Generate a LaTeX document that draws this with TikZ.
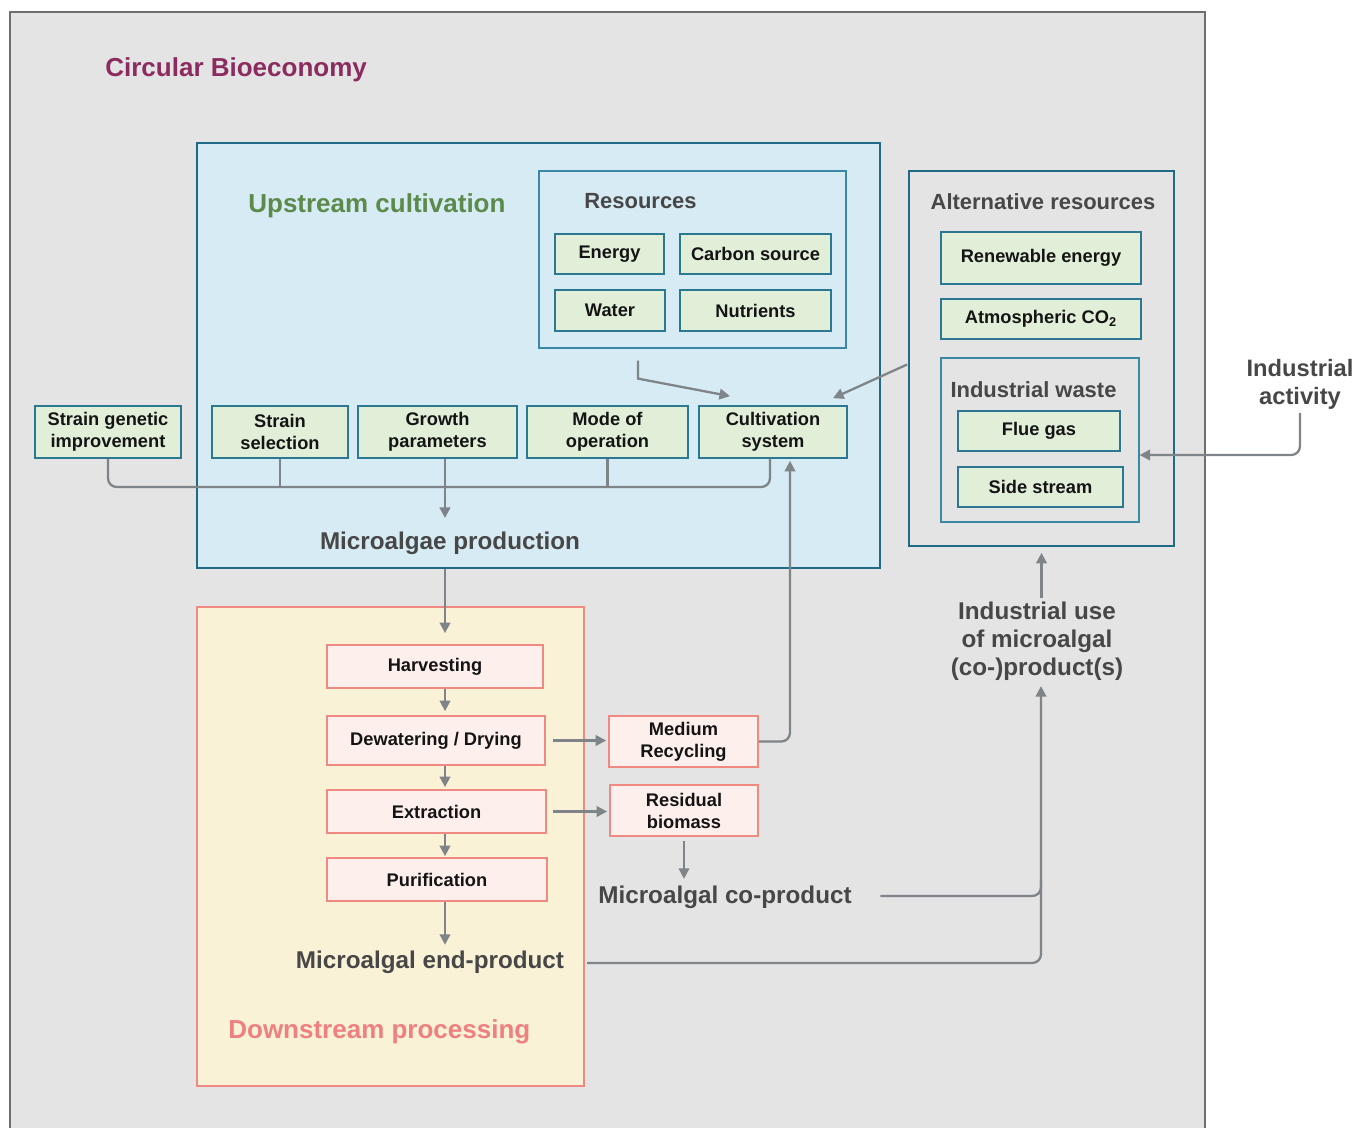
\documentclass[tikz,border=0pt]{standalone}
\usepackage{fontspec}
\setmainfont{Liberation Sans}
\usetikzlibrary{arrows.meta,positioning,calc}

\definecolor{outerfill}{HTML}{E4E4E4}
\definecolor{outeredge}{HTML}{6E6E6E}
\definecolor{bioecon}{HTML}{8C2B5F}
\definecolor{upfill}{HTML}{D6EBF3}
\definecolor{upedge}{HTML}{1E6A87}
\definecolor{uptitle}{HTML}{5B8A4B}
\definecolor{resedge}{HTML}{3B87A6}
\definecolor{greenfill}{HTML}{E1EFD9}
\definecolor{greenedge}{HTML}{2C7892}
\definecolor{downfill}{HTML}{FAF2D7}
\definecolor{downedge}{HTML}{EF8A82}
\definecolor{pinkfill}{HTML}{FDF0EC}
\definecolor{downtitle}{HTML}{EE8080}
\definecolor{labelgray}{HTML}{474747}
\definecolor{arrowgray}{HTML}{7E8488}

\newcommand{\boxfont}{\bfseries\fontsize{10.4}{12.5}\selectfont}
\newcommand{\titlefont}{\bfseries\fontsize{14.8}{17}\selectfont}
\newcommand{\subtitlefont}{\bfseries\fontsize{12.5}{15}\selectfont}
\newcommand{\labelfont}{\bfseries\fontsize{13.8}{15.9}\selectfont}

\begin{document}
\begin{tikzpicture}[x=0.02cm, y=-0.02cm,
    box/.style={rectangle, line width=1pt, align=center, inner sep=1pt, font=\boxfont, text=black!92},
    greenbox/.style={box, draw=greenedge, fill=greenfill},
    pinkbox/.style={box, draw=downedge, fill=pinkfill},
    frame/.style={rectangle, inner sep=0pt},
    title/.style={font=\titlefont, inner sep=0pt},
    label/.style={font=\labelfont, text=labelgray, align=center, inner sep=2pt},
    flow/.style={-{Triangle[length=6pt,width=6pt]}, draw=arrowgray, line width=1.3pt, rounded corners=5pt},
    wire/.style={draw=arrowgray, line width=1.3pt, rounded corners=5pt}
]

    \useasboundingbox (0,0) rectangle (1357,1127);

    % Circular bioeconomy frame
    \draw [fill=outerfill, draw=outeredge, line width=1pt] (10,12) rectangle (1205,1150);
    \node (bioecon) [title, text=bioecon, anchor=west] at (105,70) {Circular Bioeconomy};

    % Upstream cultivation
    \node (upstream) [frame, fill=upfill, draw=upedge, line width=1.2pt, minimum width=13.66cm, minimum height=8.5cm] at (538.5,355.5) {};
    \node (uptitle) [title, text=uptitle, anchor=west] at (248,206) {Upstream cultivation};

    \node (res) [frame, draw=resedge, line width=0.7pt, minimum width=6.14cm, minimum height=3.54cm] at (692.5,259.5) {};
    \node (restitle) [font=\subtitlefont, text=labelgray, anchor=west, inner sep=0pt] at (584,201) {Resources};
    \node (energy) [greenbox, minimum width=2.18cm, minimum height=0.8cm] at (609.5,254) {Energy};
    \node (carbon) [greenbox, minimum width=3.02cm, minimum height=0.8cm] at (755.5,254) {Carbon source};
    \node (water) [greenbox, minimum width=2.2cm, minimum height=0.82cm] at (610,310.5) {Water};
    \node (nutr) [greenbox, minimum width=3.02cm, minimum height=0.82cm] at (755.5,310.5) {Nutrients};

    \node (sgi) [greenbox, minimum width=2.92cm, minimum height=1.04cm] at (108,432) {Strain genetic\\improvement};
    \node (ssel) [greenbox, minimum width=2.72cm, minimum height=1.04cm] at (280,432) {Strain\\selection};
    \node (growth) [greenbox, minimum width=3.18cm, minimum height=1.04cm] at (437.5,432) {Growth\\parameters};
    \node (mode) [greenbox, minimum width=3.22cm, minimum height=1.04cm] at (607.5,432) {Mode of\\operation};
    \node (cult) [greenbox, minimum width=2.96cm, minimum height=1.04cm] at (773,432) {Cultivation\\system};

    \node (prod) [label] at (450,543) {Microalgae production};

    % Alternative resources
    \node (altres) [frame, draw=upedge, line width=1pt, minimum width=5.3cm, minimum height=7.5cm] at (1041.5,358.5) {};
    \node (alttitle) [font=\subtitlefont, text=labelgray] at (1043,202) {Alternative resources};
    \node (renew) [greenbox, minimum width=4cm, minimum height=1.04cm] at (1041,258) {Renewable energy};
    \node (atmco) [greenbox, minimum width=4cm, minimum height=0.8cm] at (1041,319) {Atmospheric CO\textsubscript{2}};

    \node (indwaste) [frame, draw=resedge, line width=0.7pt, minimum width=3.96cm, minimum height=3.28cm] at (1040,440) {};
    \node (wastetitle) [font=\subtitlefont, text=labelgray] at (1033.5,390) {Industrial waste};
    \node (flue) [greenbox, minimum width=3.24cm, minimum height=0.8cm] at (1039,431) {Flue gas};
    \node (side) [greenbox, minimum width=3.3cm, minimum height=0.8cm] at (1040.5,487) {Side stream};

    \node (indact) [label, font=\bfseries\fontsize{13.5}{15.9}\selectfont] at (1300,384) {Industrial\\activity};
    \node (induse) [label] at (1037,641) {Industrial use\\of microalgal\\(co-)product(s)};

    % Downstream processing
    \node (downstream) [frame, fill=downfill, draw=downedge, line width=1.2pt, minimum width=7.74cm, minimum height=9.58cm] at (390.5,846.5) {};
    \node (downtitle) [title, text=downtitle, anchor=west] at (228,1032) {Downstream processing};

    \coordinate (spine) at (445,0);
    \node (harv) [pinkbox, minimum width=4.32cm, minimum height=0.86cm] at (435,666.5) {Harvesting};
    \node (dew) [pinkbox, minimum width=4.36cm, minimum height=0.98cm] at (436,740.5) {Dewatering / Drying};
    \node (extr) [pinkbox, minimum width=4.38cm, minimum height=0.86cm] at (436.5,811.5) {Extraction};
    \node (purif) [pinkbox, minimum width=4.4cm, minimum height=0.86cm] at (437,879.5) {Purification};
    \node (endprod) [label] at (430,962) {Microalgal end-product};

    \node (medium) [pinkbox, minimum width=2.98cm, minimum height=1.02cm] at (683.5,741.5) {Medium\\Recycling};
    \node (resid) [pinkbox, minimum width=2.96cm, minimum height=1.02cm] at (684,810.5) {Residual\\biomass};
    \node (coprod) [label] at (725,897) {Microalgal co-product};

    % Upstream connectors
    \coordinate (bus) at (445,487);
    \draw [wire] (sgi.south) |- (bus) -| ([shift={(-3,0)}]cult.south);
    \draw [wire] (ssel.south) -- (ssel.south |- bus);
    \draw [wire] (mode.south) -- (mode.south |- bus);
    \draw [flow] (growth.south -| bus) -- ([shift={(0,31)}]bus);
    \draw [flow, rounded corners=0pt] ([shift={(-54.5,12)}]res.south) -- ++(0,18) -- ([shift={(-43,-9)}]cult.north);
    \draw [flow] ([shift={(-1,6)}]altres.west) -- ([shift={(60,-7)}]cult.north);
    \draw [flow] (medium.east) -| ([shift={(17,2)}]cult.south);

    % Alternative resources connectors
    \draw [flow] (indact.south) |- ([shift={(0,15)}]indwaste.east);
    \draw [flow] (altres.south |- induse.north) -- ([shift={(0,6)}]altres.south);

    % Downstream connectors
    \draw [flow] (upstream.south -| spine) -- ([shift={(0,-11)}]harv.north -| spine);
    \draw [flow] (harv.south -| spine) -- ([shift={(0,-4)}]dew.north -| spine);
    \draw [flow] (dew.south -| spine) -- ([shift={(0,-2)}]extr.north -| spine);
    \draw [flow] (extr.south -| spine) -- ([shift={(0,-1)}]purif.north -| spine);
    \draw [flow] (purif.south -| spine) -- ([shift={(0,-2)}]endprod.north -| spine);
    \draw [flow] ([shift={(7,0)}]dew.east) -- ([shift={(-2,0)}]medium.west |- dew.east);
    \draw [flow] ([shift={(6,0)}]extr.east) -- ([shift={(-2,0)}]resid.west |- extr.east);
    \draw [flow] ([shift={(0,4)}]resid.south) -- ([shift={(0,-3)}]resid.south |- coprod.north);

    % Co-products to industrial use
    \coordinate (join) at (1041,880);
    \draw [flow] ([shift={(25,-1)}]coprod.east) -| ([shift={(4,2)}]induse.south);
    \draw [wire] ([shift={(2,0)}]downstream.east |- 0,963) -| (join);

\end{tikzpicture}
\end{document}
